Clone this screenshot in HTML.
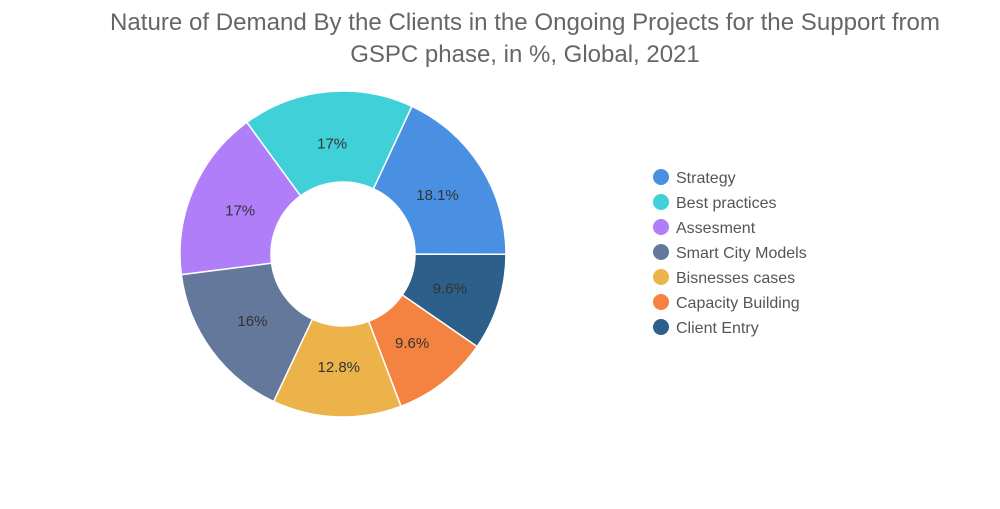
<!DOCTYPE html>
<html><head><meta charset="utf-8"><style>
body{margin:0;background:#fff;width:1000px;height:504px;overflow:hidden;font-family:"Liberation Sans",sans-serif}
</style></head><body>
<svg width="1000" height="504">
<text x="525" y="30" text-anchor="middle" font-size="24" fill="#666" textLength="830" lengthAdjust="spacingAndGlyphs">Nature of Demand By the Clients in the Ongoing Projects for the Support from</text>
<text x="525" y="62" text-anchor="middle" font-size="24" fill="#666">GSPC phase, in %, Global, 2021</text>
<g id="slices"></g><g id="labels"></g><g id="legend"></g>
</svg>
<script>
const categories=["Strategy","Client Entry","Capacity Building","Bisnesses cases","Smart City Models","Assesment","Best practices"];
const values=[18.1,9.6,9.6,12.8,16,17,17];
const labels=["18.1%","9.6%","9.6%","12.8%","16%","17%","17%"];
const colors=["#4a90e2","#2c5f8a","#f48240","#ecb34a","#64789c","#b07ef8","#40d0d8"];
const legendOrder=["Strategy","Best practices","Assesment","Smart City Models","Bisnesses cases","Capacity Building","Client Entry"];
const NS="http://www.w3.org/2000/svg";
const cx=343,cy=254,R=163,r=72,start=25;
const total=values.reduce((a,b)=>a+b,0);
function pt(a,rad){const t=(a-90)*Math.PI/180;return [cx+rad*Math.cos(t),cy+rad*Math.sin(t)];}
let a=start;
const sg=document.getElementById('slices'),lg=document.getElementById('labels');
values.forEach((v,i)=>{
 const sw=v/total*360,b=a+sw,l=sw>180?1:0;
 const p1=pt(a,R),p2=pt(b,R),p3=pt(b,r),p4=pt(a,r);
 const p=document.createElementNS(NS,'path');
 p.setAttribute('d',`M${p1}A${R},${R} 0 ${l} 1 ${p2}L${p3}A${r},${r} 0 ${l} 0 ${p4}Z`);
 p.setAttribute('fill',colors[i]);p.setAttribute('stroke','#fff');p.setAttribute('stroke-width','1.5');
 
 
 sg.appendChild(p);
 const m=pt(a+sw/2,112);
 const t=document.createElementNS(NS,'text');
 t.setAttribute('x',m[0]);t.setAttribute('y',m[1]+6);t.setAttribute('text-anchor','middle');
 t.setAttribute('font-size','15');t.setAttribute('fill','#333');t.textContent=labels[i];
 
 
 lg.appendChild(t);
 a=b;
});
const leg=document.getElementById('legend');
legendOrder.forEach((n,i)=>{
 const y=177+i*25,ci=categories.indexOf(n);
 const g=document.createElementNS(NS,'g');
 
 
 const c=document.createElementNS(NS,'circle');
 c.setAttribute('cx',661);c.setAttribute('cy',y);c.setAttribute('r',8);c.setAttribute('fill',colors[ci]);
 const t=document.createElementNS(NS,'text');
 t.setAttribute('x',676);t.setAttribute('y',y+6);t.setAttribute('font-size','16');t.setAttribute('fill','#555');t.textContent=n;
 g.appendChild(c);g.appendChild(t);leg.appendChild(g);
});
</script>
</body></html>
